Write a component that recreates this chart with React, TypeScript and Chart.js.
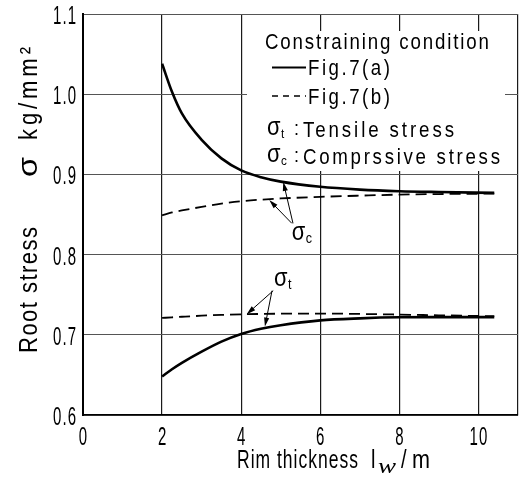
import React, { useEffect, useRef } from 'react';
import { Chart, registerables } from 'chart.js';

Chart.register(...registerables);

// ---- data ----
const rimThickness = [2, 2.25, 2.5, 3, 3.5, 4, 4.5, 5, 6, 7, 8, 9, 10.4];
const compFig7a = [1.038, 1.003, 0.976, 0.943, 0.92, 0.905, 0.8965, 0.891, 0.8845, 0.881, 0.879, 0.878, 0.877];
const compFig7b = [0.849, 0.8525, 0.855, 0.8595, 0.8635, 0.8665, 0.8685, 0.87, 0.872, 0.8735, 0.8748, 0.8755, 0.876];
const tensFig7a = [0.648, 0.657, 0.665, 0.679, 0.6915, 0.701, 0.7075, 0.712, 0.718, 0.7205, 0.7218, 0.722, 0.722];
const tensFig7b = [0.721, 0.7218, 0.7225, 0.7238, 0.7248, 0.7255, 0.726, 0.7263, 0.7265, 0.726, 0.7252, 0.7243, 0.7232];

const xTickValues = [0, 2, 4, 6, 8, 10];
const xTickLabels = ['0', '2', '4', '6', '8', '10'];
const yTickValues = [0.6, 0.7, 0.8, 0.9, 1.0, 1.1];
const yTickLabels = ['0.6', '0.7', '0.8', '0.9', '1.0', '1.1'];
const X_MIN = 0;
const X_MAX = 11;
const Y_MIN = 0.6;
const Y_MAX = 1.1;

const legendTitle = 'Constraining condition';
const legendSeries = ['Fig.7(a)', 'Fig.7(b)'];
const legendNotes = ['Tensile stress', 'Comprssive stress'];
const legendSubs = ['t', 'c'];

// annotation arrows (data units)
const arrowFromX = [5.31, 5.28, 4.81, 4.78];
const arrowFromY = [0.839, 0.839, 0.755, 0.755];
const arrowToX = [5.065, 4.71, 4.14, 4.6];
const arrowToY = [0.8905, 0.868, 0.7257, 0.7102];
const labelX = [5.28, 4.83];
const labelY = [0.818, 0.761];
const labelSubs = ['c', 't'];

const FONT = '"Liberation Sans", Arial, sans-serif';
const SERIF = '"Liberation Serif", "Times New Roman", serif';

type TOpts = {
  size: number;
  sx?: number;
  width?: number;
  align?: 'left' | 'center' | 'right';
  italic?: boolean;
  family?: string;
  rotate?: boolean;
};

function drawText(ctx: CanvasRenderingContext2D, s: string, x: number, y: number, o: TOpts) {
  ctx.save();
  const c = ctx as any;
  ctx.font = `${o.italic ? 'italic ' : ''}${o.size}px ${o.family ?? FONT}`;
  ctx.textAlign = 'left';
  ctx.textBaseline = 'alphabetic';
  const hasLS = 'letterSpacing' in c;
  if (hasLS) c.letterSpacing = '0px';
  const w0 = ctx.measureText(s).width;
  let sx = o.sx ?? 0.85;
  let total = w0 * sx;
  if (o.width) {
    if (hasLS && s.length > 1) {
      const ls = (o.width / sx - w0) / (s.length - 1);
      c.letterSpacing = ls + 'px';
      total = o.width;
    } else {
      sx = o.width / w0;
      total = o.width;
    }
  }
  let off = 0;
  if (o.align === 'center') off = -total / 2;
  else if (o.align === 'right') off = -total;
  ctx.translate(x, y);
  if (o.rotate) ctx.rotate(-Math.PI / 2);
  ctx.translate(off, 0);
  ctx.scale(sx, 1);
  ctx.fillText(s, 0, 0);
  ctx.restore();
}

function drawArrow(ctx: CanvasRenderingContext2D, x0: number, y0: number, x1: number, y1: number) {
  const a = Math.atan2(y1 - y0, x1 - x0);
  const L = 9;
  const W = 2.6;
  ctx.beginPath();
  ctx.moveTo(x0, y0);
  ctx.lineTo(x1 - Math.cos(a) * 4, y1 - Math.sin(a) * 4);
  ctx.stroke();
  ctx.beginPath();
  ctx.moveTo(x1, y1);
  ctx.lineTo(x1 - L * Math.cos(a) + W * Math.sin(a), y1 - L * Math.sin(a) - W * Math.cos(a));
  ctx.lineTo(x1 - L * Math.cos(a) - W * Math.sin(a), y1 - L * Math.sin(a) + W * Math.cos(a));
  ctx.closePath();
  ctx.fill();
}

const decorPlugin = {
  id: 'decor',
  beforeDatasetsDraw(chart: any) {
    const ctx: CanvasRenderingContext2D = chart.ctx;
    ctx.save();
    // legend panel covering the grid
    ctx.fillStyle = '#fff';
    ctx.fillRect(247, 31, 258, 140);
    ctx.fillStyle = '#000';
    ctx.strokeStyle = '#000';
    drawText(ctx, legendTitle, 265, 48.5, { size: 22, width: 224 });
    // sample lines
    ctx.lineWidth = 1.8;
    ctx.setLineDash([]);
    ctx.beginPath();
    ctx.moveTo(272, 67.5);
    ctx.lineTo(306, 67.5);
    ctx.stroke();
    ctx.lineWidth = 1.5;
    ctx.setLineDash([6, 5]);
    ctx.beginPath();
    ctx.moveTo(272, 96);
    ctx.lineTo(306, 96);
    ctx.stroke();
    ctx.setLineDash([]);
    drawText(ctx, legendSeries[0], 308, 75, { size: 22, width: 82 });
    drawText(ctx, legendSeries[1], 308, 104, { size: 22, width: 82 });
    const bases = [135, 162];
    legendNotes.forEach((t, i) => {
      const b = bases[i];
      drawText(ctx, 'σ', 267, b, { size: 25, width: 13.5 });
      drawText(ctx, legendSubs[i], 281, b + 3, { size: 13, sx: 0.9 });
      drawText(ctx, ':', 294, b, { size: 20, sx: 0.9 });
      drawText(ctx, t, 303, b + 1.5, { size: 22, width: i === 0 ? 151 : 197 });
    });
    ctx.restore();
  },
  afterDraw(chart: any) {
    const ctx: CanvasRenderingContext2D = chart.ctx;
    const xs = chart.scales.x;
    const ys = chart.scales.y;
    ctx.save();
    ctx.fillStyle = '#000';
    ctx.strokeStyle = '#000';
    // tick labels
    yTickValues.forEach((v, i) => {
      drawText(ctx, yTickLabels[i], 76, ys.getPixelForValue(v) + 10, { size: 25, sx: 0.6, width: 23, align: 'right' });
    });
    xTickValues.forEach((v, i) => {
      drawText(ctx, xTickLabels[i], xs.getPixelForValue(v), 445, { size: 25, sx: 0.6, width: v >= 10 ? 18 : undefined, align: 'center' });
    });
    // x title
    drawText(ctx, 'Rim thickness', 237, 468, { size: 25, sx: 0.7, width: 121 });
    drawText(ctx, 'l', 371, 468, { size: 25, sx: 0.8 });
    drawText(ctx, 'w', 378, 473, { size: 22, width: 18, italic: true, family: SERIF });
    drawText(ctx, '/', 401, 468, { size: 25, sx: 0.8 });
    drawText(ctx, 'm', 412, 468, { size: 25, width: 18 });
    // y title
    drawText(ctx, 'Root stress', 37, 290, { size: 26, width: 126, align: 'center', rotate: true });
    drawText(ctx, 'σ', 37, 167, { size: 28, width: 20, align: 'center', rotate: true });
    drawText(ctx, 'kg/mm²', 37, 93.5, { size: 26, width: 93, align: 'center', rotate: true });
    // annotations
    ctx.lineWidth = 1;
    arrowFromX.forEach((fx, i) => {
      drawArrow(
        ctx,
        xs.getPixelForValue(fx),
        ys.getPixelForValue(arrowFromY[i]),
        xs.getPixelForValue(arrowToX[i]),
        ys.getPixelForValue(arrowToY[i])
      );
    });
    labelX.forEach((lx, i) => {
      const px = xs.getPixelForValue(lx);
      const py = ys.getPixelForValue(labelY[i]);
      drawText(ctx, 'σ', px, py, { size: 25, width: 13.5 });
      drawText(ctx, labelSubs[i], px + 14, py + 3, { size: 14, sx: 0.9 });
    });
    ctx.restore();
  },
};

export default function App() {
  const ref = useRef<HTMLCanvasElement | null>(null);
  useEffect(() => {
    document.body.style.margin = '0';
    const canvas = ref.current;
    if (!canvas) return;
    const pts = (ys: number[]) => rimThickness.map((x, i) => ({ x, y: ys[i] }));
    const solid = { borderColor: '#000', borderWidth: 2.6, pointRadius: 0, cubicInterpolationMode: 'monotone' as const, fill: false };
    const dashed = { borderColor: '#000', borderWidth: 1.8, borderDash: [11, 6], pointRadius: 0, cubicInterpolationMode: 'monotone' as const, fill: false };
    const chart = new Chart(canvas, {
      type: 'line',
      data: {
        datasets: [
          { label: 'Fig.7(a) σc', data: pts(compFig7a), ...solid },
          { label: 'Fig.7(b) σc', data: pts(compFig7b), ...dashed },
          { label: 'Fig.7(a) σt', data: pts(tensFig7a), ...solid },
          { label: 'Fig.7(b) σt', data: pts(tensFig7b), ...dashed },
        ],
      },
      options: {
        animation: false,
        responsive: false,
        devicePixelRatio: 1,
        layout: { padding: { left: 83, right: 10, top: 14, bottom: 66 } },
        plugins: { legend: { display: false }, tooltip: { enabled: false }, title: { display: false } },
        scales: {
          x: {
            type: 'linear',
            min: X_MIN,
            max: X_MAX,
            afterBuildTicks: (s: any) => {
              s.ticks = [...xTickValues, X_MAX].map((v) => ({ value: v }));
            },
            ticks: { display: false },
            grid: { color: '#1a1a1a', lineWidth: 1.2, drawTicks: false },
            border: { display: true, color: '#000', width: 1.6 },
            title: { display: false },
          },
          y: {
            type: 'linear',
            min: Y_MIN,
            max: Y_MAX,
            afterBuildTicks: (s: any) => {
              s.ticks = yTickValues.map((v) => ({ value: v }));
            },
            ticks: { display: false },
            grid: { color: '#555', lineWidth: 1, drawTicks: false },
            border: { display: true, color: '#000', width: 2 },
            title: { display: false },
          },
        },
      },
      plugins: [decorPlugin],
    });
    return () => chart.destroy();
  }, []);
  return (
    <div style={{ width: 528, height: 481, background: '#fff' }}>
      <canvas ref={ref} width={528} height={481} style={{ display: 'block' }} />
    </div>
  );
}
